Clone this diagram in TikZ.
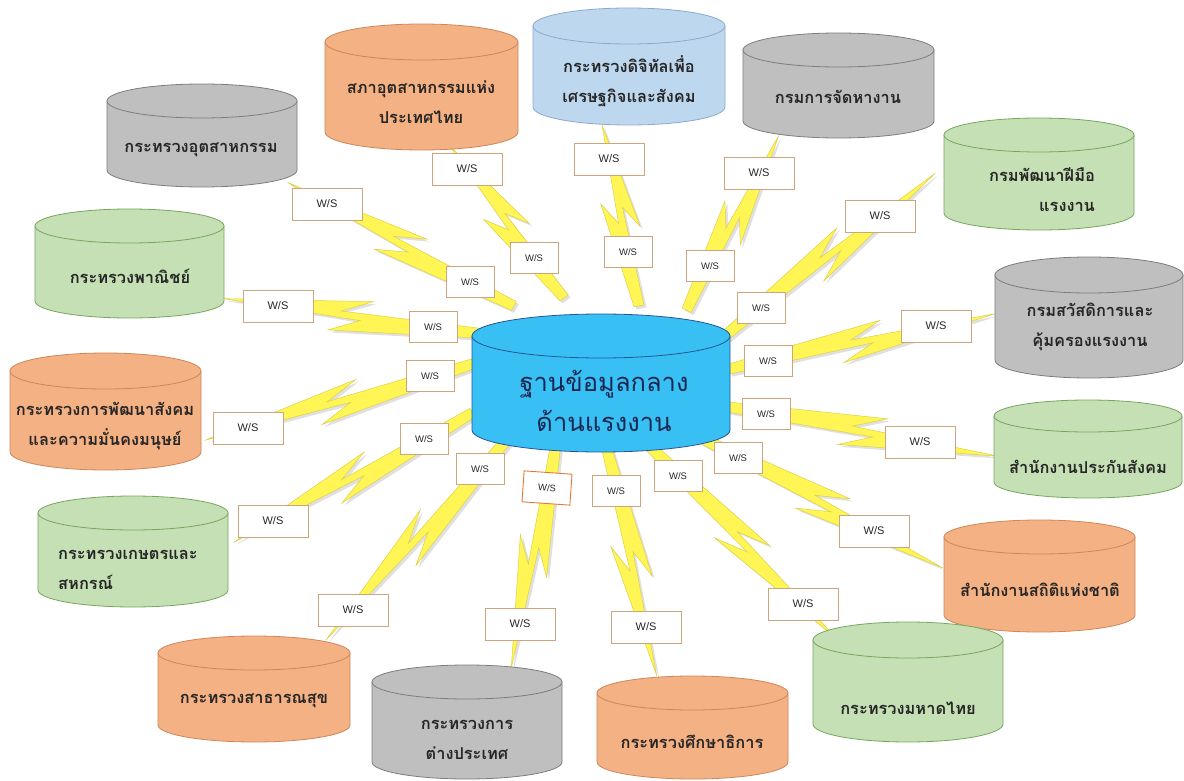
\documentclass[tikz,border=0pt]{standalone}
\usepackage{fontspec}
\newfontfamily\thai[Script=Thai]{Loma}
\newfontfamily\wsf{Liberation Sans}
\usetikzlibrary{calc}
\pgfdeclarelayer{bg}
\pgfsetlayers{bg,main}
\definecolor{orfill}{RGB}{244,177,131}\definecolor{orline}{RGB}{205,135,90}
\definecolor{blfill}{RGB}{189,215,238}\definecolor{blline}{RGB}{140,170,205}
\definecolor{gyfill}{RGB}{191,191,191}\definecolor{gyline}{RGB}{125,125,125}
\definecolor{grfill}{RGB}{197,224,180}\definecolor{grline}{RGB}{120,165,95}
\definecolor{cefill}{RGB}{56,192,245}\definecolor{celine}{RGB}{40,85,150}
\definecolor{ctext}{RGB}{25,40,80}
\definecolor{txt}{RGB}{38,38,38}
\definecolor{wsline}{RGB}{205,165,125}
\definecolor{wsdark}{RGB}{225,120,60}
\definecolor{boltfill}{RGB}{255,246,85}
\definecolor{boltline}{RGB}{222,208,70}
\tikzset{
  lbl/.style={font=\thai\bfseries\fontsize{16.4}{30}\selectfont, text=txt, align=center, inner sep=0pt},
  wso/.style={draw=wsline, fill=white, line width=0.9pt, font=\wsf\fontsize{11}{12}\selectfont, text=txt, minimum width=70pt, minimum height=32pt, inner sep=0pt},
  wsi/.style={wso, minimum width=48pt, minimum height=31pt, font=\wsf\fontsize{9.5}{11}\selectfont},
  boltc/.style={fill=boltfill, draw=boltline, line width=0.5pt},
  boltsh/.style={fill=black, opacity=0.12}
}
\def\boltpath{(0pt,5pt) -- ({0.58*\blen pt},17pt) -- ({0.46*\blen pt},3.5pt) -- ({\blen pt},0pt) -- ({0.42*\blen pt},-17pt) -- ({0.54*\blen pt},-3.5pt) -- (0pt,-5pt) -- cycle}
\makeatletter
\newcommand\boltlink[4]{%
  \pgfpointdiff{\pgfpointanchor{#1}{center}}{\pgfpointanchor{#2}{center}}%
  \edef\bdx{\the\pgf@x}\edef\bdy{\the\pgf@y}%
  \pgfmathsetmacro\bang{atan2(\bdy,\bdx)}%
  \pgfmathsetmacro\blen{veclen(\bdx,\bdy)+#3+#4}%
  \begin{scope}[shift={(#1.center)}, shift={(2.5pt,-2.5pt)}, rotate=\bang, xshift=-#3pt]
    \fill[boltsh] \boltpath;
  \end{scope}
  \begin{scope}[shift={(#1.center)}, rotate=\bang, xshift=-#3pt]
    \filldraw[boltc] \boltpath;
  \end{scope}}
\makeatother
\newcommand\cyl[6]{% cx cy w h ry col
  \pgfmathsetmacro\hw{#3/2}%
  \filldraw[fill=#6fill, draw=#6line, line width=0.8pt]
    ({#1-\hw},{#2-#4/2+#5}) -- ({#1-\hw},{#2+#4/2-#5})
    arc[start angle=180, end angle=360, x radius=\hw pt, y radius=#5pt]
    -- ({#1+\hw},{#2-#4/2+#5}) -- cycle;
  \filldraw[fill=#6fill, draw=#6line, line width=0.8pt]
    (#1,{#2-#4/2+#5}) ellipse [x radius=\hw pt, y radius=#5pt];
}
\begin{document}
\begin{tikzpicture}[x=1pt,y=-1pt]
\begin{pgfonlayer}{bg}
\fill[white] (0,0) rectangle (1184,781);
\end{pgfonlayer}
\useasboundingbox (0,0) rectangle (1184,781);
% cylinders
\cyl{202}{135.5}{190}{103}{17}{gy}
\cyl{421.5}{87}{193}{126}{18}{or}
\cyl{629}{66.5}{192}{117}{18}{bl}
\cyl{838.5}{85.5}{191}{105}{17}{gy}
\cyl{1039}{174}{190}{112}{17}{gr}
\cyl{1089}{317.5}{188}{121}{18}{gy}
\cyl{1088}{449}{188}{98}{16}{gr}
\cyl{1039.5}{576}{191}{112}{17}{or}
\cyl{908}{682}{190}{120}{18}{gr}
\cyl{692.5}{727.5}{191}{103}{17}{or}
\cyl{467}{722}{190}{114}{17}{gy}
\cyl{254}{689}{192}{106}{17}{or}
\cyl{133}{551.5}{190}{111}{17}{gr}
\cyl{105.5}{411.5}{191}{117}{18}{or}
\cyl{129.5}{263.5}{189}{109}{17}{gr}
\cyl{601}{383}{258}{138}{22}{ce}
% labels
\node[lbl] (n1) at (201,150) {กระทรวงอุตสาหกรรม};
\node[lbl] (n2) at (421,102) {สภาอุตสาหกรรมแห่ง\\ประเทศไทย};
\node[lbl] (n3) at (629,81) {กระทรวงดิจิทัลเพื่อ\\เศรษฐกิจและสังคม};
\node[lbl] (n4) at (838,97) {กรมการจัดหางาน};
\node[lbl, align=right] (n5) at (1042,190) {กรมพัฒนาฝีมือ\\แรงงาน};
\node[lbl] (n6) at (1090,327) {กรมสวัสดิการและ\\คุ้มครองแรงงาน};
\node[lbl] (n7) at (1088,467) {สำนักงานประกันสังคม};
\node[lbl] (n8) at (1040,590) {สำนักงานสถิติแห่งชาติ};
\node[lbl] (n9) at (908,708) {กระทรวงมหาดไทย};
\node[lbl] (n10) at (692,742) {กระทรวงศึกษาธิการ};
\node[lbl] (n11) at (467,740) {กระทรวงการ\\ต่างประเทศ};
\node[lbl] (n12) at (254,701) {กระทรวงสาธารณสุข};
\node[lbl, align=left] (n13) at (128,570) {กระทรวงเกษตรและ\\สหกรณ์};
\node[lbl] (n14) at (105,426) {กระทรวงการพัฒนาสังคม\\และความมั่นคงมนุษย์};
\node[lbl] (n15) at (130,276) {กระทรวงพาณิชย์};
\node[font=\thai\fontsize{25.5}{40}\selectfont, text=ctext, align=center, inner sep=0pt] (c) at (604,401) {ฐานข้อมูลกลาง\\ด้านแรงงาน};
% W/S boxes
\node[wso] (wo1) at (327,204) {W/S};   \node[wsi] (wi1) at (470,282) {W/S};
\node[wso] (wo2) at (467,169) {W/S};   \node[wsi] (wi2) at (534,258) {W/S};
\node[wso] (wo3) at (609,159) {W/S};   \node[wsi] (wi3) at (628,252) {W/S};
\node[wso] (wo4) at (759,173) {W/S};   \node[wsi] (wi4) at (710,266) {W/S};
\node[wso] (wo5) at (880,216) {W/S};   \node[wsi] (wi5) at (761,308) {W/S};
\node[wso] (wo6) at (936,326) {W/S};   \node[wsi] (wi6) at (768,361) {W/S};
\node[wso] (wo7) at (920,442) {W/S};   \node[wsi] (wi7) at (766,414) {W/S};
\node[wso] (wo8) at (874,531) {W/S};   \node[wsi] (wi8) at (738,458) {W/S};
\node[wso] (wo9) at (803,604) {W/S};   \node[wsi] (wi9) at (678,476) {W/S};
\node[wso] (wo10) at (646,627) {W/S};  \node[wsi] (wi10) at (616,491) {W/S};
\node[wso] (wo11) at (520,624) {W/S};  \node[wsi, rotate=-4, draw=wsdark] (wi11) at (547,488) {W/S};
\node[wso] (wo12) at (353,610) {W/S};  \node[wsi] (wi12) at (480,469) {W/S};
\node[wso] (wo13) at (273,521) {W/S};  \node[wsi] (wi13) at (424,439) {W/S};
\node[wso] (wo14) at (248,428) {W/S};  \node[wsi] (wi14) at (430,376) {W/S};
\node[wso] (wo15) at (278,306) {W/S};  \node[wsi] (wi15) at (433,327) {W/S};
% bolts
\begin{pgfonlayer}{bg}
\boltlink{wi1}{wo1}{50}{45}
\boltlink{wi2}{wo2}{50}{30}
\boltlink{wi3}{wo3}{55}{35}
\boltlink{wi4}{wo4}{50}{42}
\boltlink{wi5}{wo5}{45}{70}
\boltlink{wi6}{wo6}{40}{60}
\boltlink{wi7}{wo7}{40}{80}
\boltlink{wi8}{wo8}{40}{78}
\boltlink{wi9}{wo9}{45}{50}
\boltlink{wi10}{wo10}{45}{50}
\boltlink{wi11}{wo11}{45}{45}
\boltlink{wi12}{wo12}{45}{40}
\boltlink{wi13}{wo13}{55}{45}
\boltlink{wi14}{wo14}{45}{45}
\boltlink{wi15}{wo15}{45}{55}
\end{pgfonlayer}
\end{tikzpicture}
\end{document}
